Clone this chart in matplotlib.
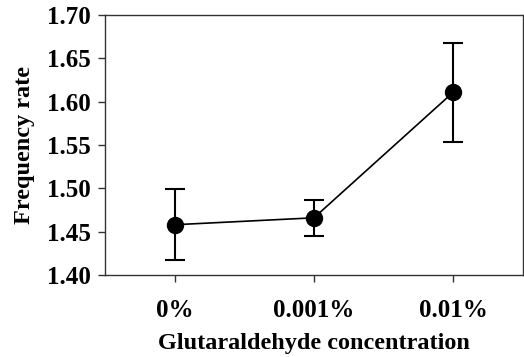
import matplotlib
matplotlib.use("Agg")
import matplotlib.pyplot as plt

categories = ["0%", "0.001%", "0.01%"]
means = [1.458, 1.466, 1.611]
errors = [0.041, 0.021, 0.057]
yticks = [1.40, 1.45, 1.50, 1.55, 1.60, 1.65, 1.70]

plt.rcParams['font.family'] = ['Liberation Serif', 'DejaVu Serif']
plt.rcParams['font.weight'] = 'bold'

fig = plt.figure(figsize=(5.24, 3.57), dpi=100)
ax = fig.add_axes([105/524, 1 - 275/357, (523-105)/524, (275-15)/357])

x = list(range(1, len(categories) + 1))
ax.errorbar(x, means, yerr=errors, fmt='o-', color='black', ecolor='black',
            markersize=11.5, linewidth=1.2, elinewidth=1.5, capsize=7, capthick=1.5)

ax.set_xlim(0.5, 3.5)
ax.set_ylim(1.40, 1.70)
ax.set_yticks(yticks)
ax.set_yticklabels([f"{v:.2f}" for v in yticks], fontsize=18, fontweight='bold')
ax.set_xticks(x)
ax.set_xticklabels(categories, fontsize=18, fontweight='bold')
ax.tick_params(axis='both', direction='out', length=5, width=1, color='#333333')
ax.tick_params(axis='x', pad=12)
ax.tick_params(axis='y', pad=5)

for s in ax.spines.values():
    s.set_color('#333333')
    s.set_linewidth(1.0)

ax.set_xlabel("Glutaraldehyde concentration", fontsize=17.5, fontweight='bold', labelpad=8)
ax.set_ylabel("Frequency rate", fontsize=17.5, fontweight='bold', labelpad=9)

fig.savefig("out.png", dpi=100)
